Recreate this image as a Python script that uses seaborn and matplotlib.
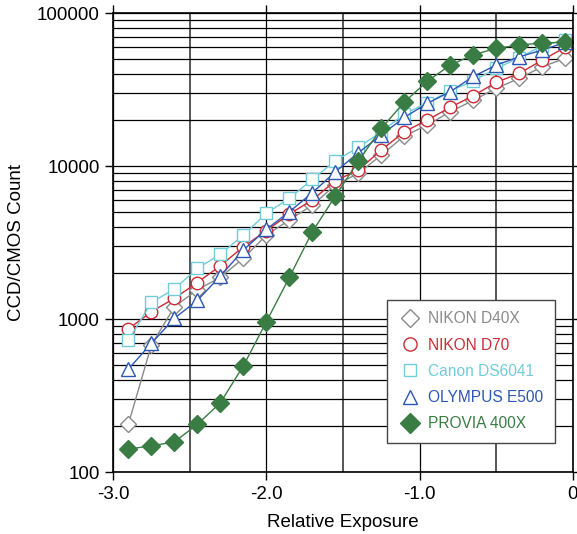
import numpy as np
import pandas as pd
import matplotlib
matplotlib.use('Agg')
import matplotlib.pyplot as plt
from matplotlib.lines import Line2D
from matplotlib.ticker import FixedLocator, LogLocator, FuncFormatter, NullFormatter
import seaborn as sns

# relative exposure (stops) for every sample
exposure = [-2.9, -2.75, -2.6, -2.45, -2.3, -2.15, -2.0, -1.85, -1.7, -1.55,
            -1.4, -1.25, -1.1, -0.95, -0.8, -0.65, -0.5, -0.35, -0.2, -0.05]

nikon_d40x = [207, 679, 1208, 1560, 1882, 2505, 3557, 4460, 5580, 7550,
              8990, 11860, 15780, 18620, 22750, 27000, 32400, 37600, 44800, 50800]
nikon_d70 = [865, 1122, 1372, 1740, 2240, 2983, 3795, 4880, 6025, 8050,
             9460, 12790, 16830, 20100, 24300, 29000, 35400, 40550, 49500, 60000]
canon_ds6041 = [729, 1291, 1578, 2155, 2660, 3557, 4930, 6180, 8220, 10880,
                13300, 16830, 21970, 26060, 31200, 36200, 43660, 51300, 61400, 66900]
olympus_e500 = [473, 697, 1016, 1330, 1919, 2838, 3875, 5050, 6720, 9220,
                12270, 16030, 20900, 25800, 30760, 38700, 45900, 52000, 57550, 64600]
provia_400x = [142, 149, 158, 206, 285, 497, 964, 1883, 3738, 6400,
               10800, 17700, 26300, 36000, 45900, 53700, 59000, 62100, 64000, 64800]

names = ['NIKON D40X', 'NIKON D70', 'Canon DS6041', 'OLYMPUS E500', 'PROVIA 400X']
series = [nikon_d40x, nikon_d70, canon_ds6041, olympus_e500, provia_400x]
colors = ['#8a8a8a', '#cc2b36', '#6fcdd9', '#2d57b5', '#3a7d44']
markers = ['D', 'o', 's', '^', 'D']
msizes = [8.5, 9, 8, 9.5, 9.5]
filled = [False, False, False, False, True]

plt.rcParams['font.family'] = ['Liberation Sans', 'DejaVu Sans']

fig = plt.figure(figsize=(5.77, 5.34), dpi=100)
ax = fig.add_axes([0.196, 0.1155, 0.797, 0.8595])

handles = []
for name, vals, col, mk, ms, fl in zip(names, series, colors, markers, msizes, filled):
    df = pd.DataFrame({'x': exposure, 'y': vals})
    face = col if fl else 'white'
    sns.lineplot(data=df, x='x', y='y', ax=ax, color=col, lw=1.0, marker=mk,
                 markersize=ms, markerfacecolor=face, markeredgecolor=col,
                 markeredgewidth=1.0, errorbar=None, sort=False)
    handles.append(Line2D([], [], ls='none', marker=mk, markersize=ms + 0.5,
                          markerfacecolor=face, markeredgecolor=col,
                          markeredgewidth=1.0, label=name))

ax.set_yscale('log')
ax.set_xlim(-3.0, 0.0)
ax.set_ylim(100, 100000)

# grid
ax.xaxis.set_major_locator(FixedLocator([-3.0, -2.0, -1.0, 0.0]))
ax.xaxis.set_minor_locator(FixedLocator([-2.5, -1.5, -0.5]))
ax.yaxis.set_major_locator(FixedLocator([100, 1000, 10000, 100000]))
ax.yaxis.set_minor_locator(LogLocator(base=10, subs=np.arange(2, 10)))
ax.yaxis.set_minor_formatter(NullFormatter())
ax.xaxis.set_major_formatter(FuncFormatter(lambda v, p: '0' if v == 0 else '%.1f' % v))
ax.yaxis.set_major_formatter(FuncFormatter(lambda v, p: '%d' % v))
ax.grid(True, which='major', color='black', lw=0.9)
ax.grid(True, which='minor', axis='y', color='black', lw=0.9)
ax.grid(True, which='minor', axis='x', color='#555555', lw=1.4)
ax.set_axisbelow(True)

ax.tick_params(which='major', direction='out', length=6, width=1, labelsize=13.5,
               top=True, right=True, colors='black')
ax.tick_params(which='minor', length=0)
for s in ax.spines.values():
    s.set_color('black')
    s.set_linewidth(1.2)

ax.set_xlabel('Relative Exposure', fontsize=13.5, labelpad=8)
ax.set_ylabel('CCD/CMOS Count', fontsize=13.5, labelpad=9)

leg = ax.legend(handles=handles, loc='lower left', bbox_to_anchor=(0.596, 0.064),
                borderaxespad=0, fontsize=11.2, labelcolor=colors, frameon=True,
                fancybox=False, framealpha=1, edgecolor='#444444',
                labelspacing=0.72, borderpad=0.75, handletextpad=0.5,
                handlelength=1.4)
leg.get_frame().set_linewidth(1.0)

fig.savefig('out.png', dpi=100)
